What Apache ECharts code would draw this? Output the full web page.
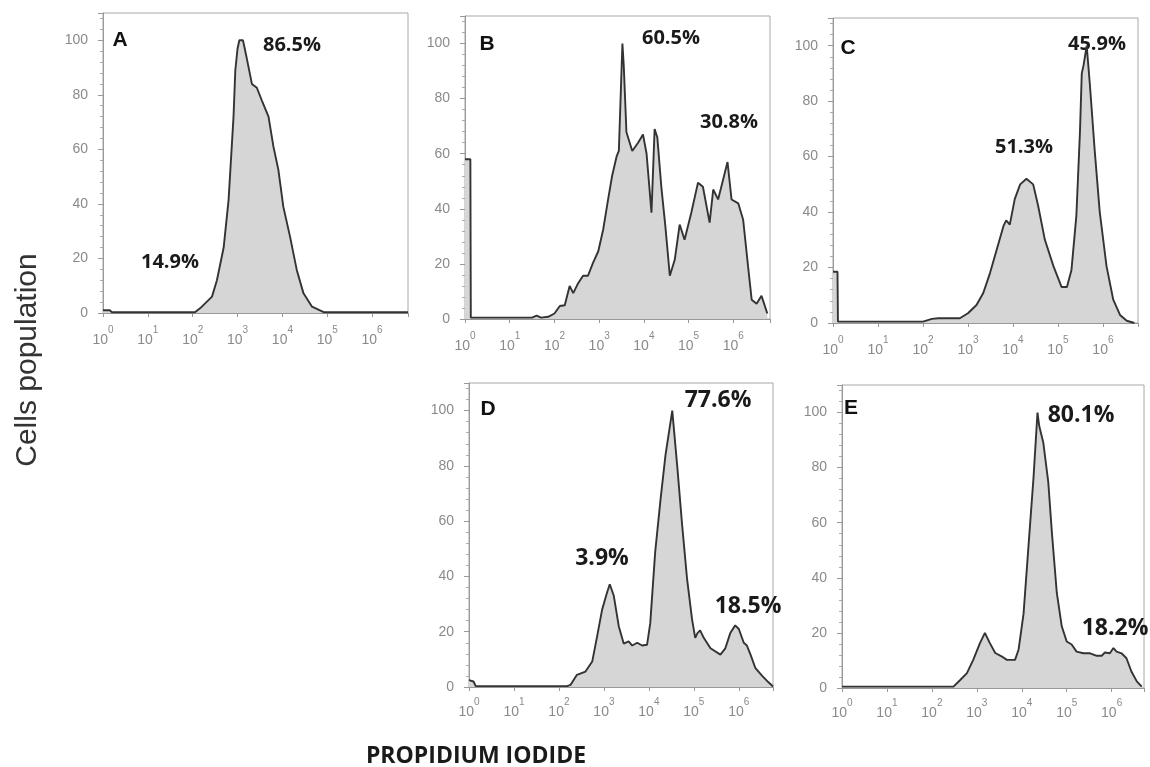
<!DOCTYPE html>
<html>
<head>
<meta charset="utf-8">
<script src="https://cdn.jsdelivr.net/npm/echarts@6/dist/echarts.min.js"></script>
<style>
  html, body { margin: 0; padding: 0; background: #fff; }
  #chart { width: 1150px; height: 767px; }
</style>
</head>
<body>
<div id="chart"></div>
<script>
// x = log10 of PI intensity, y = cell count (% of max)
var histA = [[0,1],[0.15,1],[0.2,0.3],[2.05,0.3],[2.17,1.8],[2.43,6],[2.54,12],[2.69,24],[2.8,41.5],[2.91,72],[2.95,89],[3.0,97],[3.04,100],[3.12,100],[3.16,97],[3.21,93],[3.32,84],[3.43,82.6],[3.54,78],[3.69,72],[3.8,61],[3.91,52.5],[4.02,39],[4.17,28],[4.32,15.8],[4.47,7.2],[4.66,2.3],[4.92,0.3],[6.8,0.3]];
var histB = [[0,58],[0.12,58],[0.13,0.5],[1.5,0.5],[1.6,1.2],[1.7,0.5],[1.86,0.8],[2.0,2],[2.12,4.7],[2.23,5],[2.34,12],[2.42,9.4],[2.53,13],[2.64,15.7],[2.75,15.7],[2.86,20.3],[2.98,24.6],[3.09,32.5],[3.2,43.4],[3.29,52],[3.39,59],[3.44,61],[3.52,100],[3.55,92],[3.61,67.8],[3.74,61],[3.87,64],[3.98,67],[4.06,60],[4.17,38.6],[4.24,69],[4.3,66],[4.39,48],[4.48,33.7],[4.58,15.7],[4.69,21.5],[4.8,34.3],[4.91,28.8],[5.06,38.6],[5.21,49.5],[5.32,48],[5.47,35],[5.55,47],[5.66,43.4],[5.87,57],[5.96,43.4],[6.11,42],[6.22,36],[6.33,19],[6.41,7],[6.52,5.5],[6.63,8.4],[6.76,2]];
var histC = [[0,18.5],[0.1,18.5],[0.11,0.5],[2.0,0.5],[2.2,1.5],[2.34,1.7],[2.82,1.7],[3.0,3.5],[3.19,6.5],[3.34,10.8],[3.49,18],[3.64,26.5],[3.79,35],[3.85,37],[3.93,35.5],[4.04,44.7],[4.16,50],[4.3,52],[4.45,50],[4.56,42.3],[4.71,30],[4.9,20.5],[5.08,13],[5.2,13],[5.3,19],[5.41,38.7],[5.49,69],[5.53,90],[5.57,93],[5.64,100],[5.71,86],[5.82,61.7],[5.93,40],[6.08,20.5],[6.23,8.4],[6.38,2.9],[6.53,0.8],[6.7,0]];
var histD = [[0,2.5],[0.1,2],[0.15,0.3],[2.18,0.3],[2.26,0.8],[2.4,4.4],[2.59,5.6],[2.74,9.2],[2.85,18.4],[2.96,28],[3.07,34.2],[3.13,37.2],[3.22,33],[3.33,22],[3.44,15.7],[3.55,16.5],[3.63,15],[3.74,16],[3.85,15],[3.96,15.3],[4.03,23],[4.14,48.8],[4.26,68],[4.37,84],[4.52,100],[4.63,80],[4.74,58.5],[4.85,39],[4.96,24.5],[5.03,17.8],[5.08,19.5],[5.14,20.5],[5.22,17.8],[5.37,14],[5.59,11.7],[5.7,14],[5.81,19.5],[5.92,22.3],[6.0,21],[6.11,16],[6.18,15],[6.26,11.7],[6.37,6.8],[6.52,4],[6.66,1.7],[6.76,0.2]];
var histE = [[0,0.5],[2.48,0.5],[2.63,2.9],[2.78,5.4],[2.92,10.2],[3.07,16.3],[3.18,20],[3.29,16.3],[3.41,12.7],[3.55,11.5],[3.67,10.2],[3.85,10.2],[3.93,14],[4.04,27],[4.15,51.6],[4.26,76],[4.35,100],[4.39,95],[4.48,89],[4.59,74.7],[4.67,56.5],[4.78,34.5],[4.89,22.4],[5.0,16.9],[5.11,15.8],[5.22,13.2],[5.37,12.6],[5.52,12.6],[5.67,11.7],[5.78,11.7],[5.85,12.9],[5.96,12.6],[6.04,14.5],[6.11,13.2],[6.22,12.6],[6.33,10.8],[6.44,6],[6.56,2.4],[6.67,0.5]];

var panelNames = ["A", "B", "C", "D", "E"];
var pctA = ["86.5%", "14.9%"];
var pctB = ["60.5%", "30.8%"];
var pctC = ["45.9%", "51.3%"];
var pctD = ["77.6%", "3.9%", "18.5%"];
var pctE = ["80.1%", "18.2%"];
var yTicks = [0, 20, 40, 60, 80, 100];
var xExponents = [0, 1, 2, 3, 4, 5, 6];

var hists = [histA, histB, histC, histD, histE];
var pcts = [pctA, pctB, pctC, pctD, pctE];

// panel boxes: left, top, width, height, xmax
var boxes = [
    [103, 13, 305, 300, 6.8],
    [465, 16, 305, 303, 6.82],
    [833, 18, 305, 305, 6.78],
    [469, 383, 304, 304, 6.76],
    [842, 385, 302, 303, 6.72]
];
var letterPos = [[120, 40], [487, 44], [848, 48], [488, 409], [851, 408]];
var pctPos = [
    [[292, 45], [170, 262]],
    [[671, 38], [729, 122]],
    [[1097, 44], [1024, 147]],
    [[718, 400], [602, 558], [748, 606]],
    [[1081, 415], [1115, 628]]
];

var grids = [], xAxes = [], yAxes = [], series = [], graphics = [];

boxes.forEach(function (b, i) {
    grids.push({
        left: b[0], top: b[1], width: b[2], height: b[3],
        show: true, borderColor: "#a8a8a8", borderWidth: 1
    });
    xAxes.push({
        type: "value", gridIndex: i, min: 0, max: b[4], interval: 1,
        axisLine: {lineStyle: {color: "#999"}},
        axisTick: {show: true, length: 4, lineStyle: {color: "#999"}},
        splitLine: {show: false},
        axisLabel: {
            margin: i < 3 ? 12 : 10,
            formatter: function (v) {
                if (xExponents.indexOf(v) < 0) return "";
                return "{b|10}{s|" + v + "}";
            },
            rich: {
                b: {fontSize: 14, color: "#8a8a8a", fontFamily: "Liberation Sans"},
                s: {fontSize: 10, color: "#8a8a8a", fontFamily: "Liberation Sans", padding: [0, 0, 20, 0]}
            }
        }
    });
    yAxes.push({
        type: "value", gridIndex: i, min: 0, max: 110, interval: 20,
        axisLine: {show: true, lineStyle: {color: "#999"}},
        axisTick: {show: true, length: 5, lineStyle: {color: "#999"}},
        minorTick: {show: true, splitNumber: 5, length: 3, lineStyle: {color: "#aaa"}},
        splitLine: {show: false},
        axisLabel: {
            margin: 15, color: "#8a8a8a", fontSize: 14, fontFamily: "Liberation Sans",
            formatter: function (v) { return yTicks.indexOf(v) >= 0 ? String(v) : ""; }
        }
    });
    series.push({
        type: "line", xAxisIndex: i, yAxisIndex: i,
        data: hists[i], symbol: "none", silent: true,
        lineStyle: {color: "#333", width: 1.9},
        areaStyle: {color: "#d6d6d6", opacity: 1}
    });

    graphics.push({
        type: "text", x: letterPos[i][0], y: letterPos[i][1],
        style: {
            text: panelNames[i], textAlign: "center", textVerticalAlign: "middle",
            font: "bold 21px 'Liberation Sans'", fill: "#111"
        }
    });
    pcts[i].forEach(function (t, j) {
        graphics.push({
            type: "text", x: pctPos[i][j][0], y: pctPos[i][j][1],
            style: {
                text: t, textAlign: "center", textVerticalAlign: "middle",
                font: "bold " + (i < 3 ? 20 : 23) + "px 'Open Sans'", fill: "#1a1a1a"
            }
        });
    });
});

graphics.push({
    type: "text", x: 28, y: 360, rotation: Math.PI / 2,
    style: {
        text: "Cells population", textAlign: "center", textVerticalAlign: "middle",
        font: "30px 'Liberation Sans'", fill: "#333"
    }
});
graphics.push({
    type: "text", x: 476, y: 756,
    style: {
        text: "PROPIDIUM IODIDE", textAlign: "center", textVerticalAlign: "middle",
        font: "bold 23px 'Open Sans'", fill: "#1a1a1a"
    }
});

var chart = echarts.init(document.getElementById("chart"));
chart.setOption({
    animation: false,
    backgroundColor: "#fff",
    grid: grids,
    xAxis: xAxes,
    yAxis: yAxes,
    series: series,
    graphic: graphics
});
</script>
</body>
</html>
